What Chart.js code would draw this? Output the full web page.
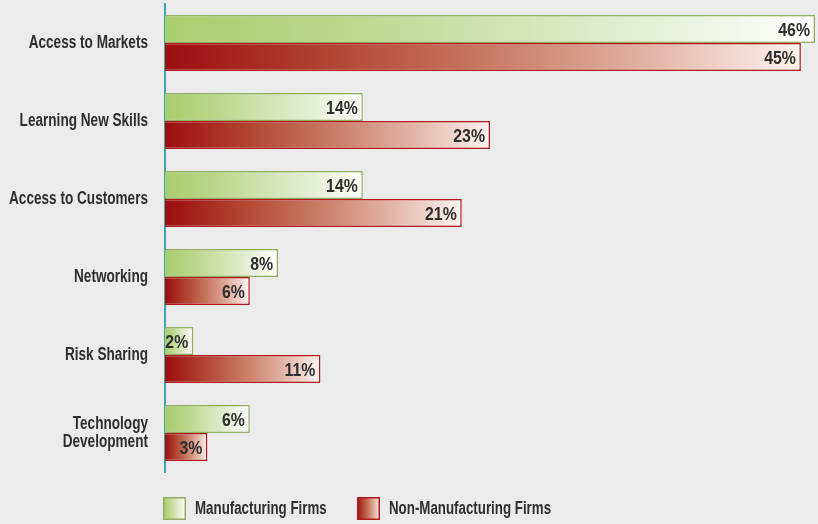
<!DOCTYPE html>
<html>
<head>
<meta charset="utf-8">
<script src="https://cdn.jsdelivr.net/npm/chart.js@4"></script>
<style>
  html, body { margin: 0; padding: 0; background: #ebebeb; }
  canvas { display: block; }
</style>
</head>
<body>
<canvas id="chart" width="818" height="524"></canvas>
<script>
// Reasons for cooperation, share of firms (%)
const categories = [
  'Access to Markets',
  'Learning New Skills',
  'Access to Customers',
  'Networking',
  'Risk Sharing',
  ['Technology', 'Development']
];
const manufacturing = [46, 14, 14, 8, 2, 6];
const nonManufacturing = [45, 23, 21, 6, 11, 3];
const seriesNames = ['Manufacturing Firms', 'Non-Manufacturing Firms'];

const FONT = "bold 18px 'Liberation Sans', Arial, sans-serif";
const TEXT = '#2e2e2e';

const GREEN = {
  stops: [[0, '#a9ce6e'], [0.25, '#b9d68a'], [0.5, '#d1e2b0'], [0.75, '#e6efd6'], [1, '#ffffff']],
  border: '#8fae60'
};
const RED = {
  stops: [[0, '#9c0d10'], [0.25, '#b1432f'], [0.5, '#c87862'], [0.75, '#e1b1a2'], [1, '#fcf3f0']],
  border: '#b3191b'
};

function paint(c, x0, x1, pal) {
  const g = c.createLinearGradient(x0, 0, Math.max(x1, x0 + 1), 0);
  pal.stops.forEach(s => g.addColorStop(s[0], s[1]));
  return g;
}

function barGradient(ctx, pal) {
  const chart = ctx.chart;
  if (!chart.chartArea) return pal.stops[0][1];
  const xs = chart.scales.x;
  return paint(chart.ctx, xs.getPixelForValue(0), xs.getPixelForValue(ctx.raw || 0), pal);
}

// Text drawn narrow: scaled horizontally around its anchor point
function narrowText(c, text, x, y, align, squeeze) {
  c.save();
  c.translate(x, y);
  c.scale(squeeze, 1);
  c.font = FONT;
  c.fillStyle = TEXT;
  c.textAlign = align;
  c.textBaseline = 'middle';
  c.fillText(text, 0, 0);
  c.restore();
}

// Category names to the left of the axis
const categoryLabels = {
  id: 'categoryLabels',
  afterDraw(chart) {
    const c = chart.ctx;
    const ys = chart.scales.y;
    const x = chart.chartArea.left - 17;
    categories.forEach((lab, i) => {
      const yc = ys.getPixelForValue(i);
      const lines = Array.isArray(lab) ? lab : [lab];
      const lh = 18;
      lines.forEach((ln, k) => {
        narrowText(c, ln, x, yc + (k - (lines.length - 1) / 2) * lh, 'right', 0.755);
      });
    });
  }
};

// Percent labels inside the right end of every bar
const valueLabels = {
  id: 'valueLabels',
  afterDatasetsDraw(chart) {
    const c = chart.ctx;
    chart.data.datasets.forEach((ds, i) => {
      chart.getDatasetMeta(i).data.forEach((el, j) => {
        narrowText(c, ds.data[j] + '%', el.x - 5, el.y + 2, 'right', 0.88);
      });
    });
  }
};

// Legend along the bottom with gradient swatches
const bottomLegend = {
  id: 'bottomLegend',
  afterDraw(chart) {
    const c = chart.ctx;
    const left = chart.chartArea.left;
    const y = 497, size = 23;
    const items = [
      { x: left - 2, pal: GREEN, name: seriesNames[0] },
      { x: left + 192, pal: RED, name: seriesNames[1] }
    ];
    items.forEach(it => {
      c.save();
      c.fillStyle = paint(c, it.x, it.x + size, it.pal);
      c.fillRect(it.x, y, size, size);
      c.strokeStyle = it.pal.border;
      c.lineWidth = 1.5;
      c.strokeRect(it.x + 0.75, y + 0.75, size - 1.5, size - 1.5);
      c.restore();
      narrowText(c, it.name, it.x + size + 9, y + size / 2 + 1, 'left', 0.74);
    });
  }
};

new Chart(document.getElementById('chart'), {
  type: 'bar',
  data: {
    labels: categories,
    datasets: [
      {
        label: seriesNames[0],
        data: manufacturing,
        backgroundColor: ctx => barGradient(ctx, GREEN),
        borderColor: GREEN.border,
        borderWidth: 1.5
      },
      {
        label: seriesNames[1],
        data: nonManufacturing,
        backgroundColor: ctx => barGradient(ctx, RED),
        borderColor: RED.border,
        borderWidth: 1.5
      }
    ]
  },
  options: {
    indexAxis: 'y',
    responsive: false,
    devicePixelRatio: 1,
    animation: false,
    categoryPercentage: 0.718,
    barPercentage: 1,
    layout: { padding: { top: 4, bottom: 52, right: 3, left: 0 } },
    plugins: {
      legend: { display: false },
      tooltip: { enabled: false }
    },
    scales: {
      x: {
        display: false,
        min: 0,
        max: 46
      },
      y: {
        grid: { display: false, drawTicks: false },
        border: { display: true, color: '#40a5ad', width: 2 },
        ticks: { display: false },
        afterFit(scale) {
          scale.width = 165;
          scale.paddingTop = 0;
          scale.paddingBottom = 0;
        }
      }
    }
  },
  plugins: [valueLabels, categoryLabels, bottomLegend]
});
</script>
</body>
</html>
